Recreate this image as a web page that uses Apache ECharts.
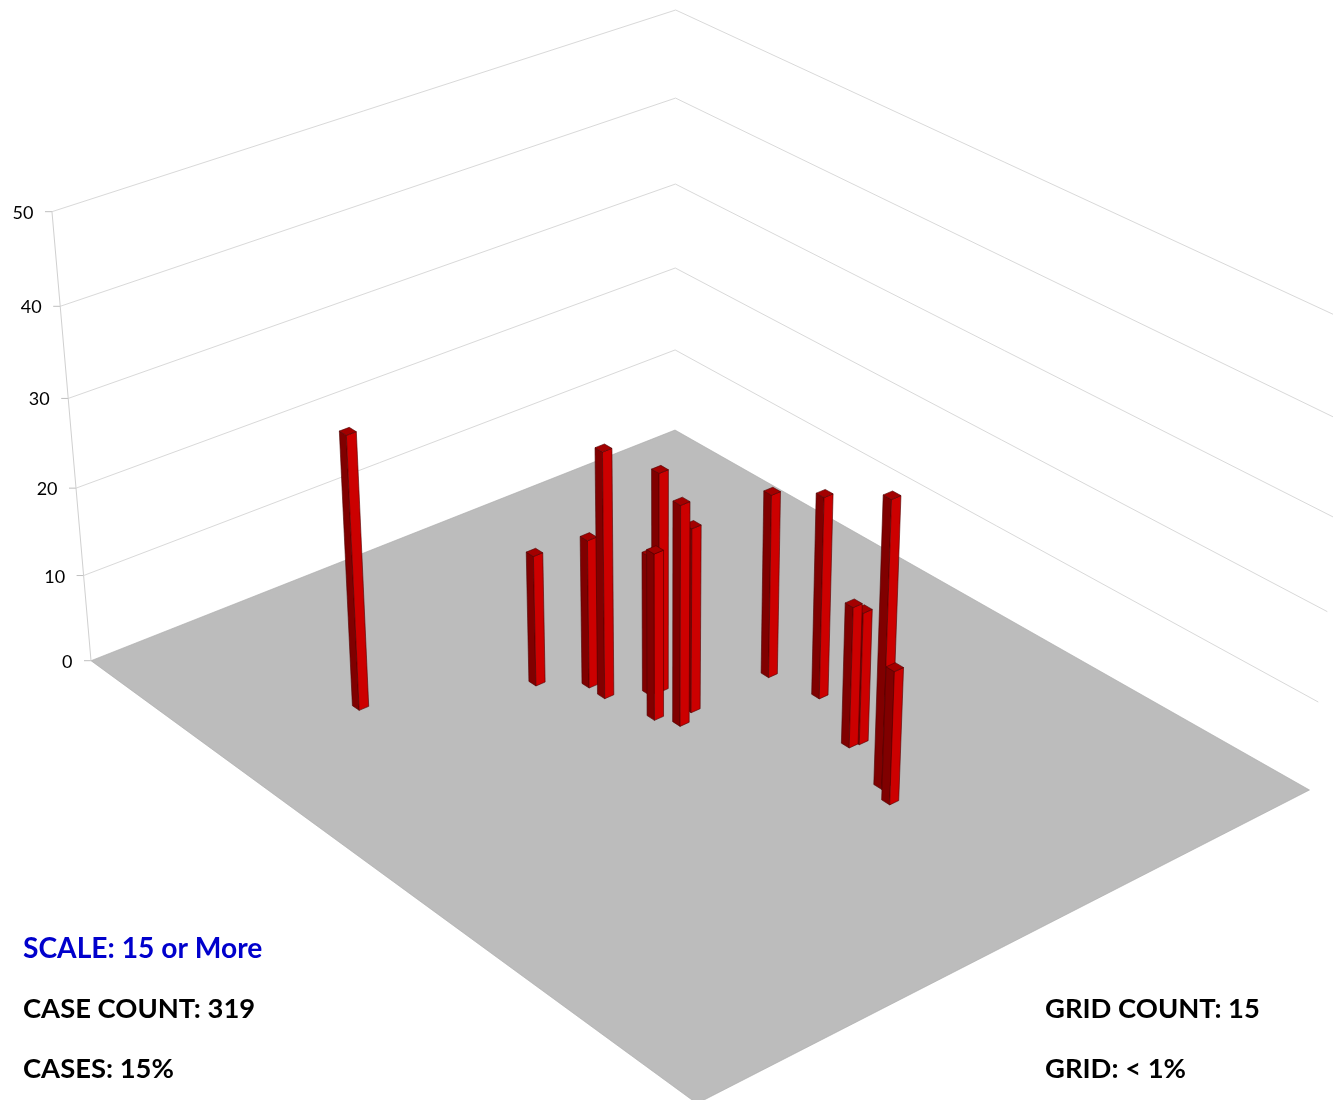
<!DOCTYPE html>
<html>
<head>
<meta charset="utf-8">
<style>html,body{margin:0;padding:0;background:#fff}#chart{width:1333px;height:1100px}</style>
<script src="https://cdn.jsdelivr.net/npm/echarts@6/dist/echarts.min.js"></script>
</head>
<body>
<div id="chart"></div>
<script>
// Data: floor position of each column (percent along each floor edge) and its height
const gridU = [33.6, 32.0, 46.9, 53.2, 48.3, 58.2, 53.3, 46.9, 51.7, 35.4, 50.1, 36.9, 79.4, 40.2, 41.8];
const gridV = [48.1, 54.7, 43.0, 37.6, 42.8, 33.7, 40.3, 48.2, 46.9, 64.0, 49.5, 63.8, 25.7, 71.7, 74.3];
const caseValues = [21, 23, 25, 17, 16, 15, 28, 21, 19, 15, 25, 16, 31, 32, 15];
const zTicks = [0, 10, 20, 30, 40, 50];
const zMax = 50;
const infoLeft = ['SCALE: 15 or More', 'CASE COUNT: 319', 'CASES: 15%'];
const infoRight = ['GRID COUNT: 15', 'GRID: < 1%'];

// Perspective camera of the scene (homogeneous 3x4 projection)
const cam = {a:-592.25,b:456.07,p:-38.5,c:675, d:170.78,e:252.35,q:-420.58,f:430, g:-0.09069,h:-0.13626,r:-0.058};
function project(u, v, z) {
  const t = z / zMax, w = cam.g*u + cam.h*v + cam.r*t + 1;
  return [(cam.a*u + cam.b*v + cam.p*t + cam.c)/w, (cam.d*u + cam.e*v + cam.q*t + cam.f)/w];
}
const halfU = 0.0076, halfV = 0.0060;
const barData = caseValues.map((val, i) => [gridU[i]/100, gridV[i]/100, val]);
const tickData = zTicks.map(z => [z]);

const option = {
  animation: false,
  backgroundColor: '#fff',
  grid: {left:0, right:0, top:0, bottom:0},
  xAxis: {type:'value', min:0, max:1333, show:false},
  yAxis: {type:'value', min:0, max:1100, inverse:true, show:false},
  graphic: [
    {type:'text', left:23, top:935, style:{text:infoLeft[0], fill:'#0000cc', font:'bold 28.2px Lato'}},
    {type:'text', left:23, top:995.5, style:{text:infoLeft[1], fill:'#000', font:'bold 27.4px Lato'}},
    {type:'text', left:23, top:1055.5, style:{text:infoLeft[2], fill:'#000', font:'bold 27.4px Lato'}},
    {type:'text', left:1045, top:995.5, style:{text:infoRight[0], fill:'#000', font:'bold 27.4px Lato'}},
    {type:'text', left:1045, top:1055.5, style:{text:infoRight[1], fill:'#000', font:'bold 27.4px Lato'}}
  ],
  series: [
    { // floor
      type:'custom', coordinateSystem:'cartesian2d', clip:false, silent:true, data:[[0,0]],
      renderItem(params, api) {
        const pts = [[0,0],[1,0],[1,1],[0,1]].map(c => api.coord(project(c[0], c[1], 0)));
        return {type:'polygon', shape:{points:pts}, style:{fill:'#bcbcbc', stroke:'#a8a8a8', lineWidth:0.6}};
      }
    },
    { // wall gridlines, axis line, ticks and labels
      type:'custom', coordinateSystem:'cartesian2d', clip:false, silent:true, data:tickData,
      renderItem(params, api) {
        const z = api.value(0);
        const back = api.coord(project(0,0,z)), left = api.coord(project(1,0,z)), right = api.coord(project(0,1,z));
        const lineStyle = {stroke:'#d9d9d9', lineWidth:1, fill:null};
        const kids = [];
        if (z > zTicks[0]) {
          kids.push({type:'polyline', shape:{points:[left, back, right]}, style:lineStyle});
        }
        kids.push({type:'line', shape:{x1:left[0]-7, y1:left[1], x2:left[0], y2:left[1]}, style:{stroke:'#bfbfbf', lineWidth:1}});
        kids.push({type:'text', x:left[0]-18.5, y:left[1]+1.2, style:{text:String(z), font:'18px Lato', fill:'#000', align:'right', verticalAlign:'middle'}});
        if (z > zTicks[0]) {
          const below = api.coord(project(1,0,z-10));
          kids.push({type:'line', shape:{x1:left[0], y1:left[1], x2:below[0], y2:below[1]}, style:{stroke:'#d0d0d0', lineWidth:1}});
        }
        return {type:'group', children:kids};
      }
    },
    { // columns, listed back to front
      type:'custom', coordinateSystem:'cartesian2d', clip:false, silent:true, data:barData,
      renderItem(params, api) {
        const u = api.value(0), v = api.value(1), val = api.value(2);
        const P = (du, dv, z) => api.coord(project(u+du*halfU, v+dv*halfV, z));
        const fb = P(1,1,0), lb = P(1,-1,0), rb = P(-1,1,0);
        const ft = P(1,1,val), lt = P(1,-1,val), rt = P(-1,1,val), bt = P(-1,-1,val);
        const edge = {stroke:'#4d0000', lineWidth:0.6};
        return {type:'group', children:[
          {type:'polygon', shape:{points:[lb,fb,ft,lt]}, style:Object.assign({fill:'#800000'}, edge)},
          {type:'polygon', shape:{points:[fb,rb,rt,ft]}, style:Object.assign({fill:'#cc0000'}, edge)},
          {type:'polygon', shape:{points:[lt,ft,rt,bt]}, style:Object.assign({fill:'#a30000'}, edge)}
        ]};
      }
    }
  ]
};
const chart = echarts.init(document.getElementById('chart'), null, {renderer:'canvas'});
chart.setOption(option);
</script>
</body>
</html>
